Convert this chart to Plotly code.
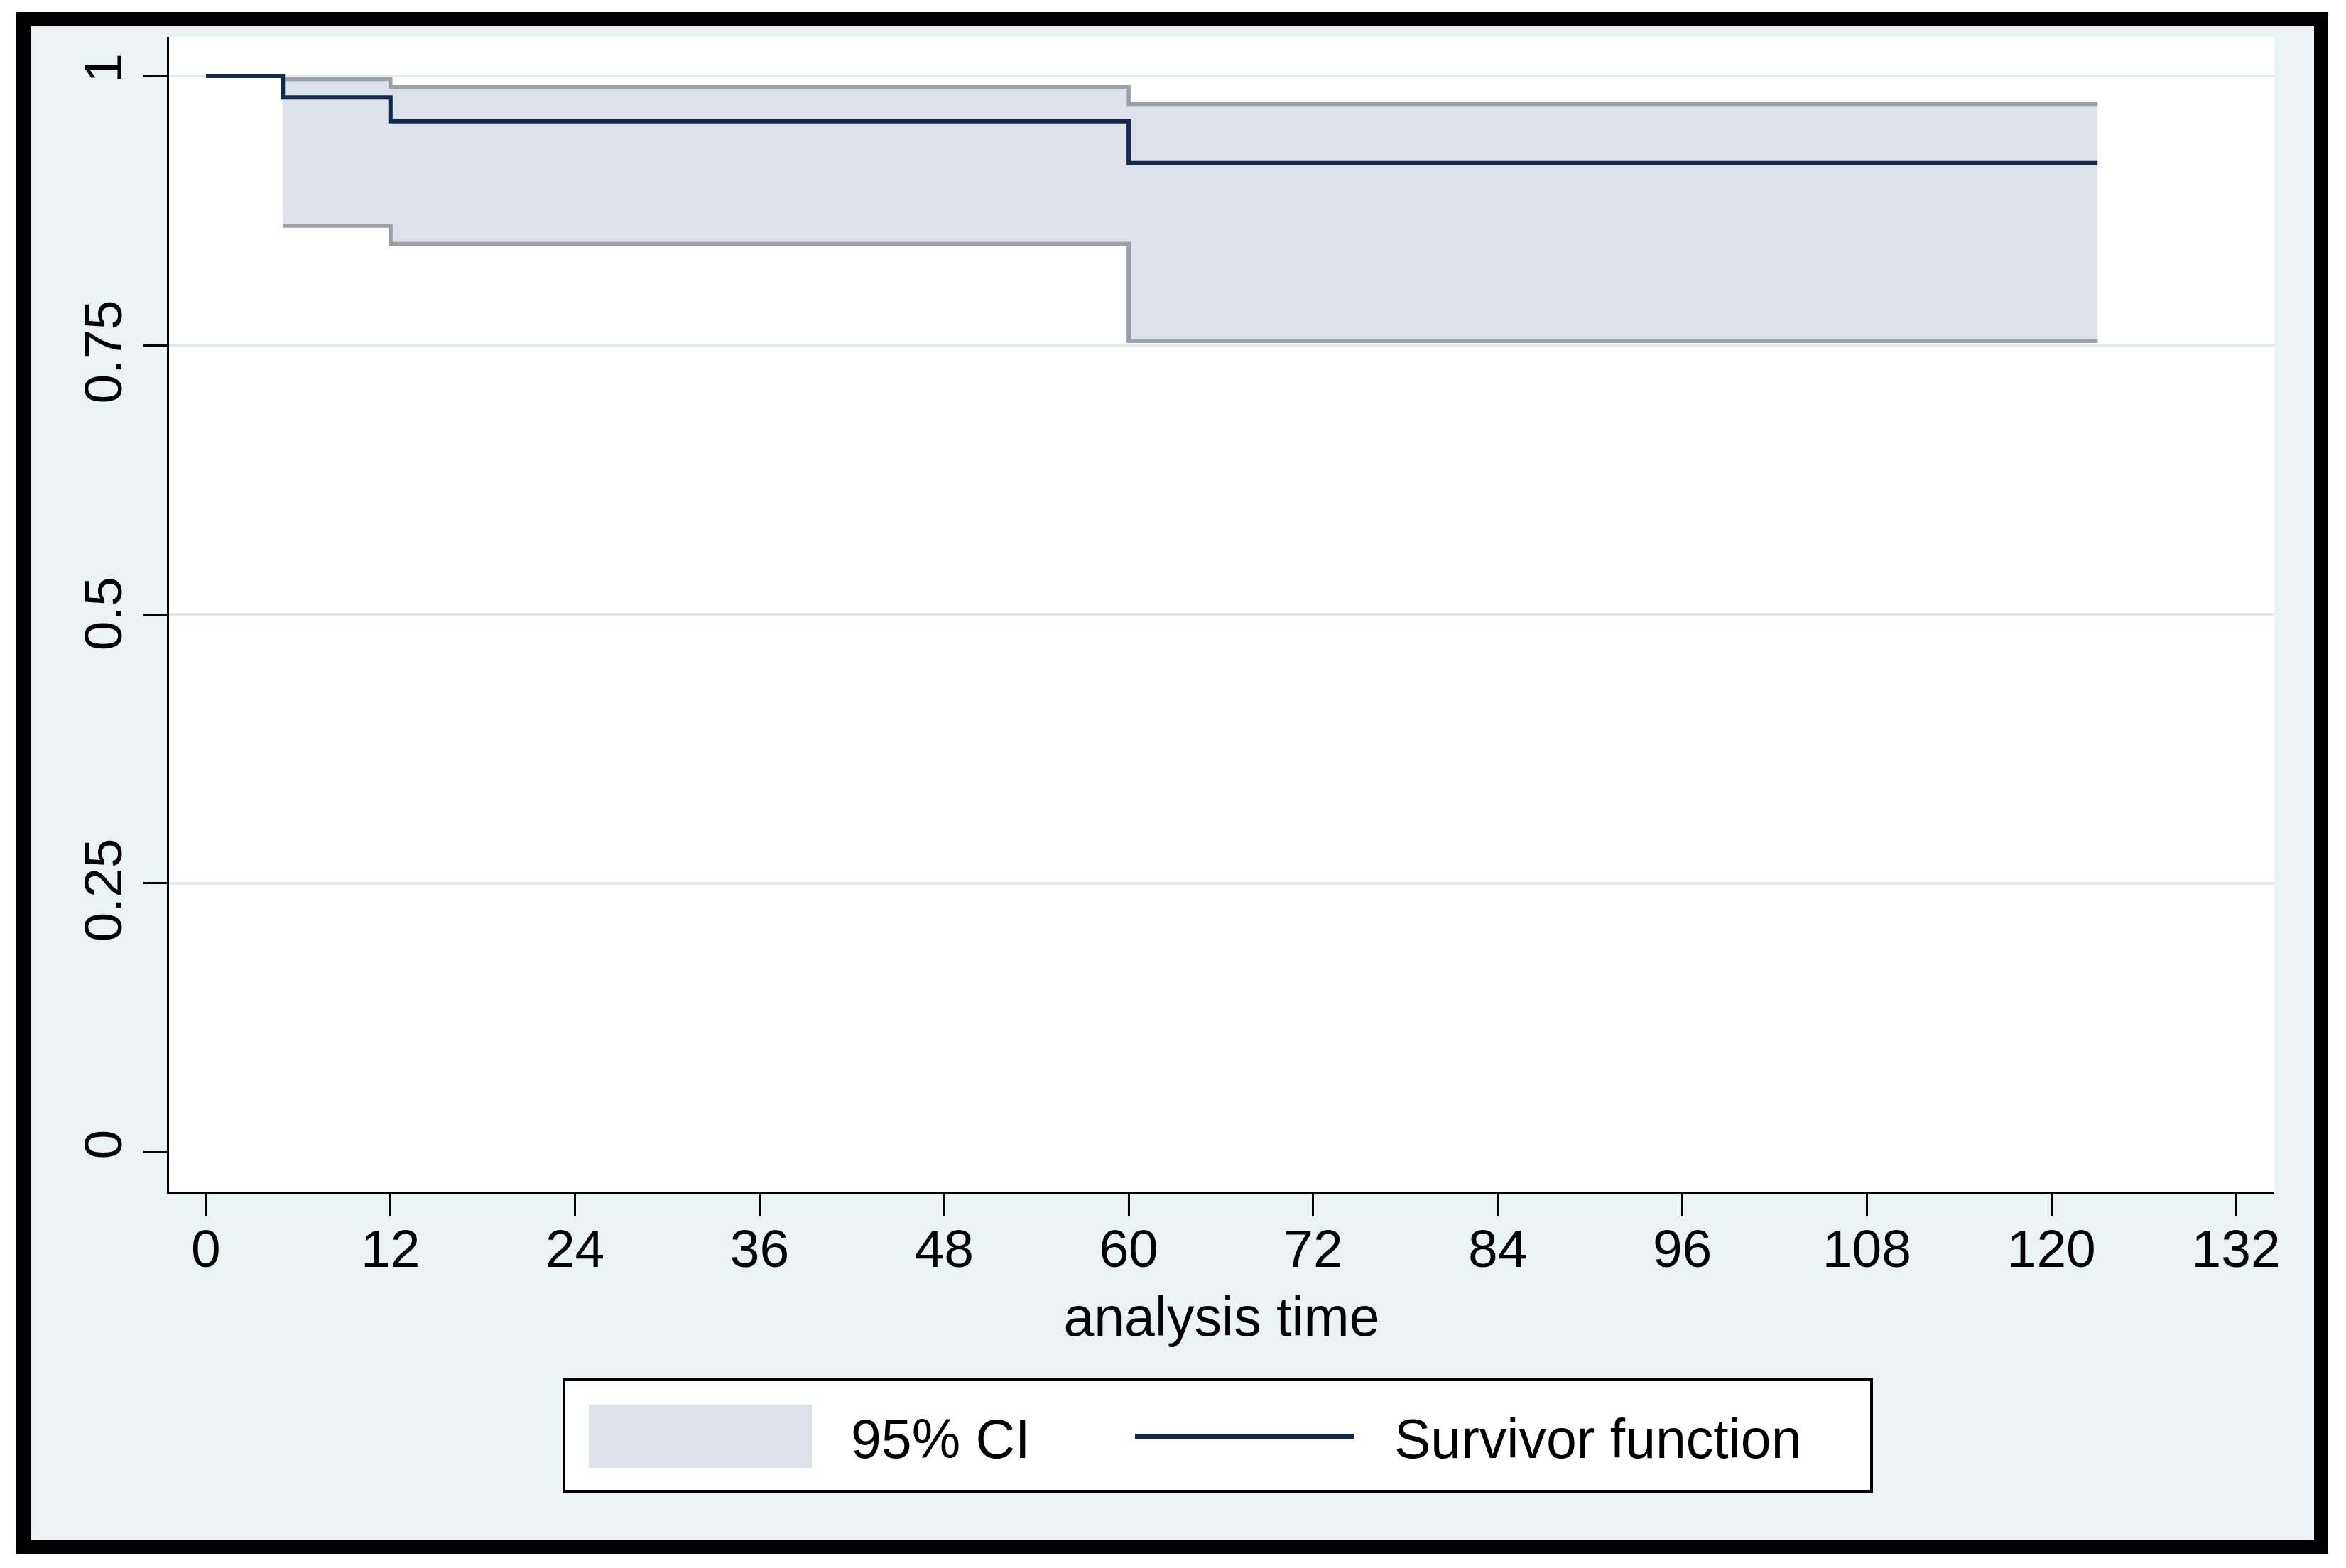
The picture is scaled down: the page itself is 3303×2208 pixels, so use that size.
import plotly.graph_objects as go

# ---- data ----
surv_time = [0, 5, 12, 60, 123]
surv_val = [1.0, 0.980, 0.958, 0.919, 0.919]

ci_time = [5, 12, 60, 123]
ci_upper = [0.997, 0.990, 0.974, 0.974]
ci_lower = [0.861, 0.844, 0.754, 0.754]

x_ticks = [0, 12, 24, 36, 48, 60, 72, 84, 96, 108, 120, 132]
y_ticks = [0, 0.25, 0.5, 0.75, 1]
y_tick_text = ["0", "0.25", "0.5", "0.75", "1"]
grid_vals = [0.25, 0.5, 0.75, 1]

legend_labels = ["95% CI", "Survivor function"]
x_title = "analysis time"

# ---- styles ----
OFF = 8                      # page body margin of the browser
W, H = 3303 - 2 * OFF, 2208 - 2 * OFF
L, R, T, B = 238, 3202, 52, 1678   # plot area in reference pixels
PW, PH = R - L, B - T
BG = "#EAF2F3"
CI_FILL = "#dde1ea"
CI_LINE = "#9a9fa8"
NAVY = "#132c4d"
FONT = "Liberation Sans, Arial, Helvetica, sans-serif"
NB = "\u00a0"
# small visual offsets of rotated labels, as in the reference
y_pad = {"0": "", "0.25": NB * 2, "0.5": NB, "0.75": NB * 2, "1": ""}


def px(x):
    return (x - L) / PW


def py(y):
    return (B - y) / PH


fig = go.Figure()

fig.add_trace(go.Scatter(x=ci_time, y=ci_lower, mode="lines", line=dict(color=CI_LINE, width=5.5, shape="hv"),
                         showlegend=False, hoverinfo="skip"))
fig.add_trace(go.Scatter(x=ci_time, y=ci_upper, mode="lines", line=dict(color=CI_LINE, width=5.5, shape="hv"),
                         fill="tonexty", fillcolor=CI_FILL, name=legend_labels[0], showlegend=False))
fig.add_trace(go.Scatter(x=ci_time, y=ci_lower, mode="lines", line=dict(color=CI_LINE, width=5.5, shape="hv"),
                         showlegend=False, hoverinfo="skip"))
fig.add_trace(go.Scatter(x=surv_time, y=surv_val, mode="lines", line=dict(color=NAVY, width=6, shape="hv"),
                         name=legend_labels[1], showlegend=False))

shapes = []
shapes.append(dict(type="rect", xref="paper", yref="paper", x0=px(33), x1=px(3268), y0=py(27), y1=py(2178),
                   line=dict(color="black", width=20), fillcolor=BG, layer="below"))
shapes.append(dict(type="rect", xref="paper", yref="paper", x0=0, x1=1, y0=0, y1=1,
                   line=dict(width=0), fillcolor="white", layer="below"))
for g in grid_vals:
    shapes.append(dict(type="line", xref="paper", yref="y", x0=0, x1=1, y0=g, y1=g,
                       line=dict(color="#e4eaec", width=4), layer="below"))

# legend
shapes.append(dict(type="rect", xref="paper", yref="paper", x0=px(794), x1=px(2635), y0=py(1943), y1=py(2100),
                   line=dict(color="black", width=4), fillcolor="white", layer="above"))
shapes.append(dict(type="rect", xref="paper", yref="paper", x0=px(829), x1=px(1143), y0=py(1978), y1=py(2067),
                   line=dict(width=0), fillcolor=CI_FILL, layer="above"))
shapes.append(dict(type="line", xref="paper", yref="paper", x0=px(1598), x1=px(1906), y0=py(2023), y1=py(2023),
                   line=dict(color=NAVY, width=6), layer="above"))

annotations = [
    dict(text=legend_labels[0], xref="paper", yref="paper", x=px(1196), y=py(2026), xanchor="left", yanchor="middle",
         showarrow=False, font=dict(family=FONT, size=77, color="black")),
    dict(text=legend_labels[1], xref="paper", yref="paper", x=px(1961), y=py(2026), xanchor="left", yanchor="middle",
         showarrow=False, font=dict(family=FONT, size=77, color="black")),
]

fig.update_layout(
    width=W, height=H,
    margin=dict(l=L - OFF, r=W - (R - OFF), t=T - OFF, b=H - (B - OFF), pad=0),
    paper_bgcolor="white", plot_bgcolor="white",
    font=dict(family=FONT, size=75, color="black"),
    shapes=shapes, annotations=annotations,
    showlegend=False,
)
fig.update_xaxes(
    range=[-2.40, 134.49], tickmode="array", tickvals=x_ticks, ticktext=[str(v) for v in x_ticks],
    showgrid=False, zeroline=False, showline=True, linecolor="black", linewidth=3,
    ticks="outside", ticklen=32, tickwidth=3, tickcolor="black",
    tickfont=dict(family=FONT, size=75, color="black"), ticklabelstandoff=-19,
    title=dict(text=x_title, font=dict(family=FONT, size=77, color="black"), standoff=29),
)
fig.update_yaxes(
    range=[-0.0363, 1.0363], tickmode="array", tickvals=y_ticks,
    ticktext=[t + y_pad[t] for t in y_tick_text], tickangle=-90,
    showgrid=False, zeroline=False, showline=True, linecolor="black", linewidth=3,
    ticks="outside", ticklen=33, tickwidth=3, tickcolor="black",
    tickfont=dict(family=FONT, size=75, color="black"), ticklabelstandoff=1,
)

fig.write_html("out.html")
